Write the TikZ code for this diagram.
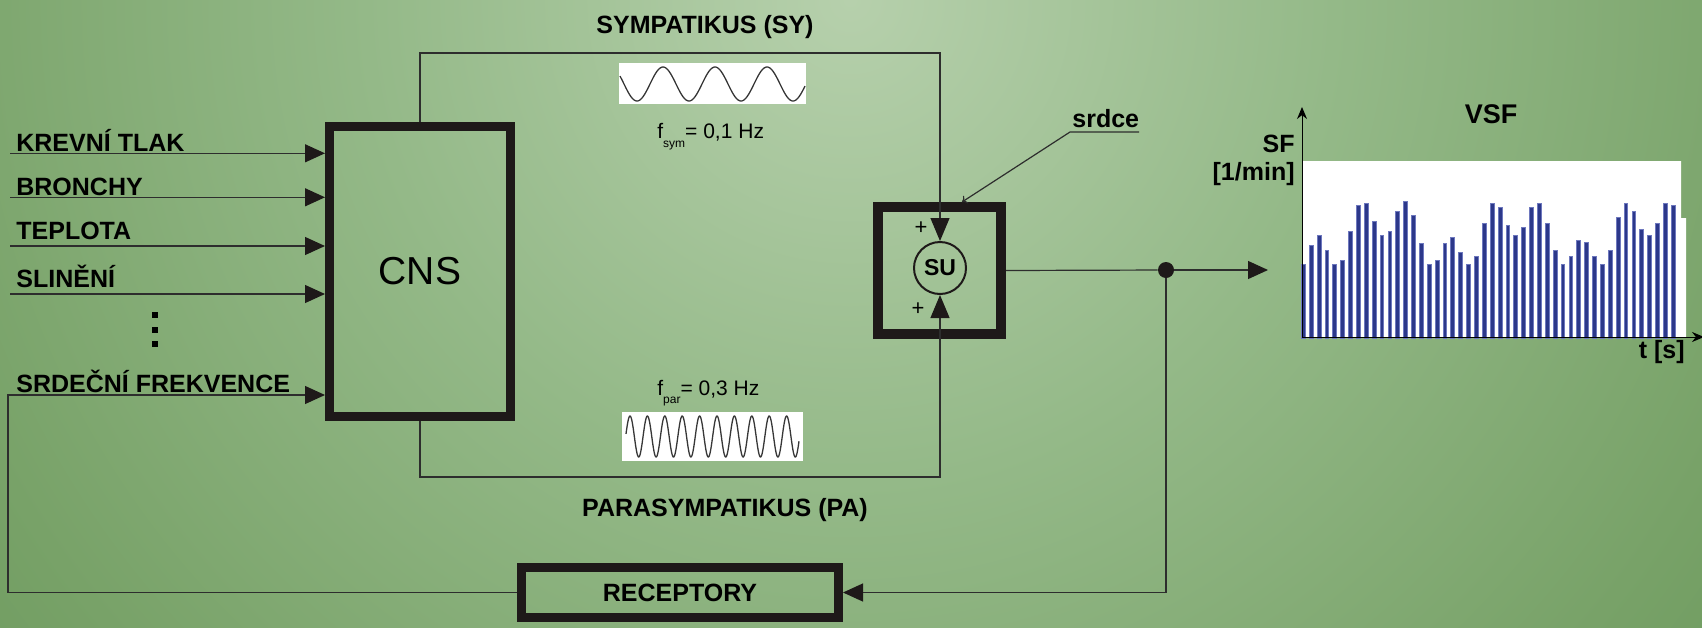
\documentclass[tikz,border=0pt]{standalone}
\usepackage{fontspec}
\setmainfont{Liberation Sans}
\usetikzlibrary{arrows.meta,calc}
\definecolor{linec}{RGB}{45,45,45}
\definecolor{boxc}{RGB}{30,25,25}
\definecolor{sinec}{RGB}{55,55,55}
\definecolor{barfill}{RGB}{44,56,138}
\definecolor{baredge}{RGB}{110,120,190}
\definecolor{bgA}{RGB}{182,208,172}
\definecolor{bgB}{RGB}{148,185,136}
\definecolor{bgC}{RGB}{120,162,104}
\definecolor{bgD}{RGB}{96,145,82}
\definecolor{bgE}{RGB}{78,128,66}
\pgfdeclareradialshading{bgshade}{\pgfpoint{0bp}{0bp}}{color(0bp)=(bgA); color(11bp)=(bgB); color(22bp)=(bgC); color(32bp)=(bgD); color(42bp)=(bgE); color(50bp)=(bgE)}
\begin{document}
\begin{tikzpicture}[x=0.5pt,y=-0.5pt,
  wire/.style={draw=linec, line width=0.6pt},
  arr/.style={wire,-{Triangle[length=10pt,width=9pt,color=boxc]}},
  sarr/.style={wire,-{Triangle[length=11.5pt,width=9.5pt,color=boxc]}},
  lbl/.style={font=\fontsize{12.5}{14}\selectfont\bfseries, inner sep=0pt, text=black},
  thickbox/.style={draw=boxc, line width=4.5pt, rectangle, inner sep=0pt},
  flbl/.style={anchor=base west, inner sep=0pt, font=\fontsize{10.5}{11}\selectfont},
  bar/.style={fill=barfill, draw=baredge, line width=0.45pt},
]
\useasboundingbox (0,0) rectangle (1702,627);
\begin{scope}
\clip (0,0) rectangle (1702,627);
\shade[shading=bgshade] (850,0) circle[radius=1100];
\end{scope}

% CNS
\node[thickbox, minimum width=90.5pt, minimum height=145pt, font=\fontsize{19.5}{20}\selectfont] (CNS) at (420,271.5) {CNS};

% inputs
\node[lbl, anchor=base west] (l1) at (16,151) {KREVNÍ TLAK};
\node[lbl, anchor=base west] (l2) at (16,195) {BRONCHY};
\node[lbl, anchor=base west] (l3) at (16,239.5) {TEPLOTA};
\node[lbl, anchor=base west] (l4) at (16,287.5) {SLINĚNÍ};
\node[lbl, anchor=base west] (l5) at (16,392) {SRDEČNÍ FREKVENCE};
\coordinate (s1) at (10,153.3);
\coordinate (s2) at (10,197.3);
\coordinate (s3) at (10,246);
\coordinate (s4) at (10,294);
\draw[arr] (s1) -- (s1 -| CNS.west);
\draw[arr] (s2) -- (s2 -| CNS.west);
\draw[arr] (s3) -- (s3 -| CNS.west);
\draw[arr] (s4) -- (s4 -| CNS.west);
\fill[black] (152,312) rectangle (158,318);
\fill[black] (152,327) rectangle (158,333);
\fill[black] (152,341) rectangle (158,347);

% SU block
\node[thickbox, line width=5pt, minimum width=61.5pt, minimum height=63.5pt] (SUbox) at (939.5,270.5) {};
\node[circle, draw=boxc, line width=1pt, minimum size=26pt, inner sep=0pt, font=\fontsize{11.5}{12}\selectfont\bfseries] (SU) at (940,268) {SU};
\node[inner sep=0pt, font=\fontsize{11}{11}\selectfont] (p1) at (921,228) {+};
\node[inner sep=0pt, font=\fontsize{11}{11}\selectfont] (p2) at (918,309) {+};

% sympatikus / parasympatikus
\coordinate (sy) at (940,53);
\coordinate (pa) at (940,477);
\draw[sarr] (CNS.north) |- (sy) -- (SU.north);
\draw[sarr] (CNS.south) |- (pa) -- (SU.south);
\node[lbl, anchor=base] (SYt) at (705,33) {SYMPATIKUS (SY)};
\node[lbl, anchor=base] (PAt) at (725,516) {PARASYMPATIKUS (PA)};

% sine waves
\fill[white] (619,63) rectangle (806,104);
\draw[sinec, line width=0.65pt] plot[domain=620:805, samples=200, smooth] (\x,{84-17*cos((\x-663)*6.923)});
\fill[white] (622,412) rectangle (803,461);
\draw[sinec, line width=0.65pt] plot[domain=626:799, samples=400] (\x,{436.5-20.5*cos((\x-630)*20.69)});
\node[flbl] (fsym) at (657,138) {f\raisebox{-4.5pt}{\fontsize{6}{6}\selectfont sym}= 0,1 Hz};
\node[flbl] (fpar) at (657,395) {f\raisebox{-4pt}{\fontsize{6}{6}\selectfont par}= 0,3 Hz};

% srdce
\node[lbl, anchor=base west] (srd) at (1072,127) {srdce};
\coordinate (su1) at (1070,132);
\coordinate (su2) at (1139,132);
\coordinate (srdt) at (962,202);
\draw[wire, -{To[length=2.5pt,width=4.5pt]}] (su2) -- (su1) -- (srdt);

% output and feedback
\node[circle, fill=boxc, minimum size=8pt, inner sep=0pt] (dot) at (1166,270) {};
\coordinate (vsfin) at (1268,270);
\draw[wire] (SUbox.east) -- (dot);
\draw[arr] (dot) -- (vsfin);
\node[thickbox, minimum width=158.5pt, minimum height=25pt, font=\fontsize{12.5}{14}\selectfont\bfseries] (REC) at (680,592.5) {RECEPTORY};
\draw[arr] (dot) |- (REC.east);
\coordinate (fb) at (8,395);
\draw[arr] (REC.west) -| (fb) -- (fb -| CNS.west);

% VSF chart
\fill[white] (1303,161) -- (1681,161) -- (1681,218) -- (1686,218) -- (1686,337) -- (1303,337) -- cycle;
\foreach \i/\h in {1/522,2/467,3/437,4/480,5/522,6/510,7/425,8/347,9/341,10/395,11/437,12/425,13/365,14/335,15/377,16/461,17/522,18/510,19/461,20/443,21/486,22/522,23/498,24/401,25/341,26/353,27/407,28/437,29/413,30/353,31/341,32/401,33/480,34/522,35/498,36/450,37/456,38/498,39/522,40/480,41/383,42/341,43/365,44/419,45/437,46/401,47/341,48/347}{
  \pgfmathsetmacro\bx{1303.3+(\i-1)*7.87}
  \pgfmathsetmacro\by{90+\h/3}
  \filldraw[bar] (\bx-1.9,338) rectangle (\bx+1.9,\by);
}
\coordinate (O) at (1302,337);
\coordinate (ytop) at (1302,107);
\coordinate (xend) at (1704,337);
\draw[wire, draw=black, line width=0.5pt, -{Stealth[length=6pt,width=5pt]}] (O) -- (ytop);
\draw[wire, draw=black, line width=0.5pt, -{Stealth[length=6pt,width=5pt]}] (O) -- (xend);
\node[lbl, font=\fontsize{13.5}{15}\selectfont\bfseries, anchor=base] (vsf) at (1491,123) {VSF};
\node[lbl, anchor=base east] (sf) at (1295,152) {SF};
\node[lbl, anchor=base east] (unit) at (1295,180) {[1/min]};
\node[lbl, anchor=base east] (ts) at (1685,358) {t [s]};
\end{tikzpicture}
\end{document}
